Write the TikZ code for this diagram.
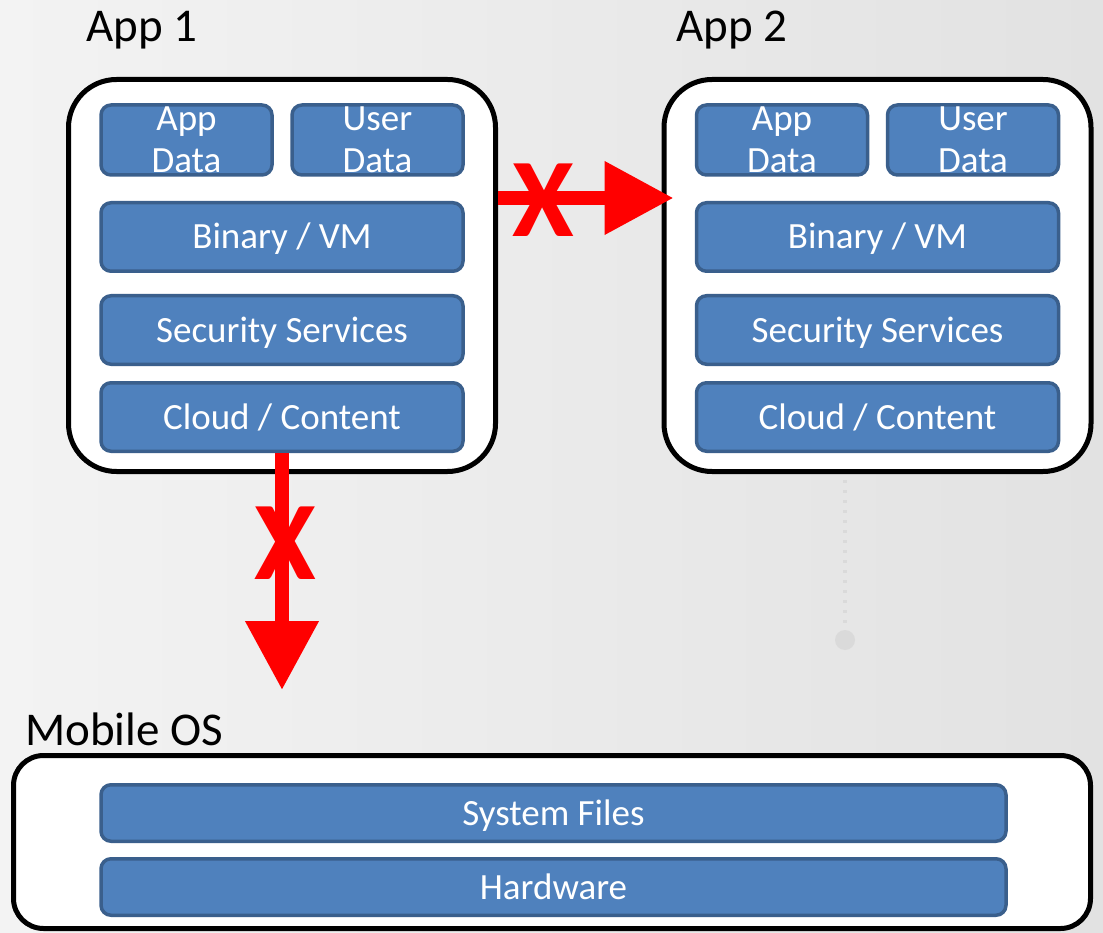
\documentclass[tikz,border=0pt]{standalone}
\usepackage{fontspec}
\setmainfont{Carlito}
\usetikzlibrary{arrows.meta}
\definecolor{boxblue}{HTML}{4F81BD}
\definecolor{boxedge}{HTML}{3A5F8C}
\definecolor{bgleft}{HTML}{F3F3F3}
\definecolor{bgright}{HTML}{E2E2E2}
\definecolor{deco}{HTML}{DADADA}
\begin{document}
\begin{tikzpicture}[x=1pt,y=-1pt,
  layer/.style={draw=boxedge, fill=boxblue, line width=3.5pt, rounded corners=10pt,
    text=white, font=\fontsize{37}{42}\selectfont, inner sep=0pt, align=center},
  oneline/.style={layer, text height=24pt, text depth=0pt},
  appbox/.style={draw=black, fill=white, line width=5pt, rounded corners=48pt, inner sep=0pt},
  title/.style={font=\fontsize{47}{50}\selectfont, inner sep=0pt, anchor=base west},
  bigarrow/.style={draw=red, line width=14pt, -{Triangle[width=70pt,length=69pt]}},
  xmark/.style={text=red, font=\fontsize{112}{112}\selectfont\bfseries, inner sep=0pt}]
\useasboundingbox (0,0) rectangle (1103,933);
\shade[left color=bgleft, right color=bgright] (0,0) rectangle (1103,933);
\draw[deco, line width=4pt, dash pattern=on 3pt off 7pt] (845,480) -- (845,628);
\fill[deco] (845,640) circle (10);

% App 1
\node[title] (t1) at (86,42) {App 1};
\node[appbox, minimum width=427pt, minimum height=392pt] (app1) at (282,275.5) {};
\node[layer, minimum width=171pt, minimum height=70pt] (ad1) at (186.5,140) {App\\Data};
\node[layer, minimum width=171pt, minimum height=70pt] (ud1) at (377.5,140) {User\\Data};
\node[oneline, minimum width=362pt, minimum height=68.5pt] (bin1) at (282,237) {Binary / VM};
\node[oneline, minimum width=362pt, minimum height=68.5pt] (sec1) at (282,330) {Security Services};
\node[oneline, minimum width=362pt, minimum height=68.5pt] (cl1) at (282,417) {Cloud / Content};

% App 2
\node[title] (t2) at (676,42) {App 2};
\node[appbox, minimum width=427pt, minimum height=392pt] (app2) at (877.5,275.5) {};
\node[layer, minimum width=171pt, minimum height=70pt] (ad2) at (782,140) {App\\Data};
\node[layer, minimum width=171pt, minimum height=70pt] (ud2) at (973,140) {User\\Data};
\node[oneline, minimum width=362pt, minimum height=68.5pt] (bin2) at (877.5,237) {Binary / VM};
\node[oneline, minimum width=362pt, minimum height=68.5pt] (sec2) at (877.5,330) {Security Services};
\node[oneline, minimum width=362pt, minimum height=68.5pt] (cl2) at (877.5,417) {Cloud / Content};

% Mobile OS
\node[title] (t3) at (25,745) {Mobile OS};
\node[appbox, rounded corners=30pt, minimum width=1077pt, minimum height=173pt] (os) at (552,842) {};
\node[oneline, minimum width=905pt, minimum height=56.5pt] (sys) at (553.5,813) {System Files};
\node[oneline, minimum width=905pt, minimum height=56.5pt] (hw) at (553.5,887) {Hardware};

% blocked arrows
\coordinate (hy) at (0,198);
\draw[bigarrow, shorten >=-12pt] (app1.east |- hy) -- (app2.west |- hy);
\node[xmark] (xh) at (543,200) {X};
\coordinate (vend) at (282,690);
\draw[bigarrow] (cl1.south) -- (vend);
\node[xmark] (xv) at (285,543) {X};
\end{tikzpicture}
\end{document}
